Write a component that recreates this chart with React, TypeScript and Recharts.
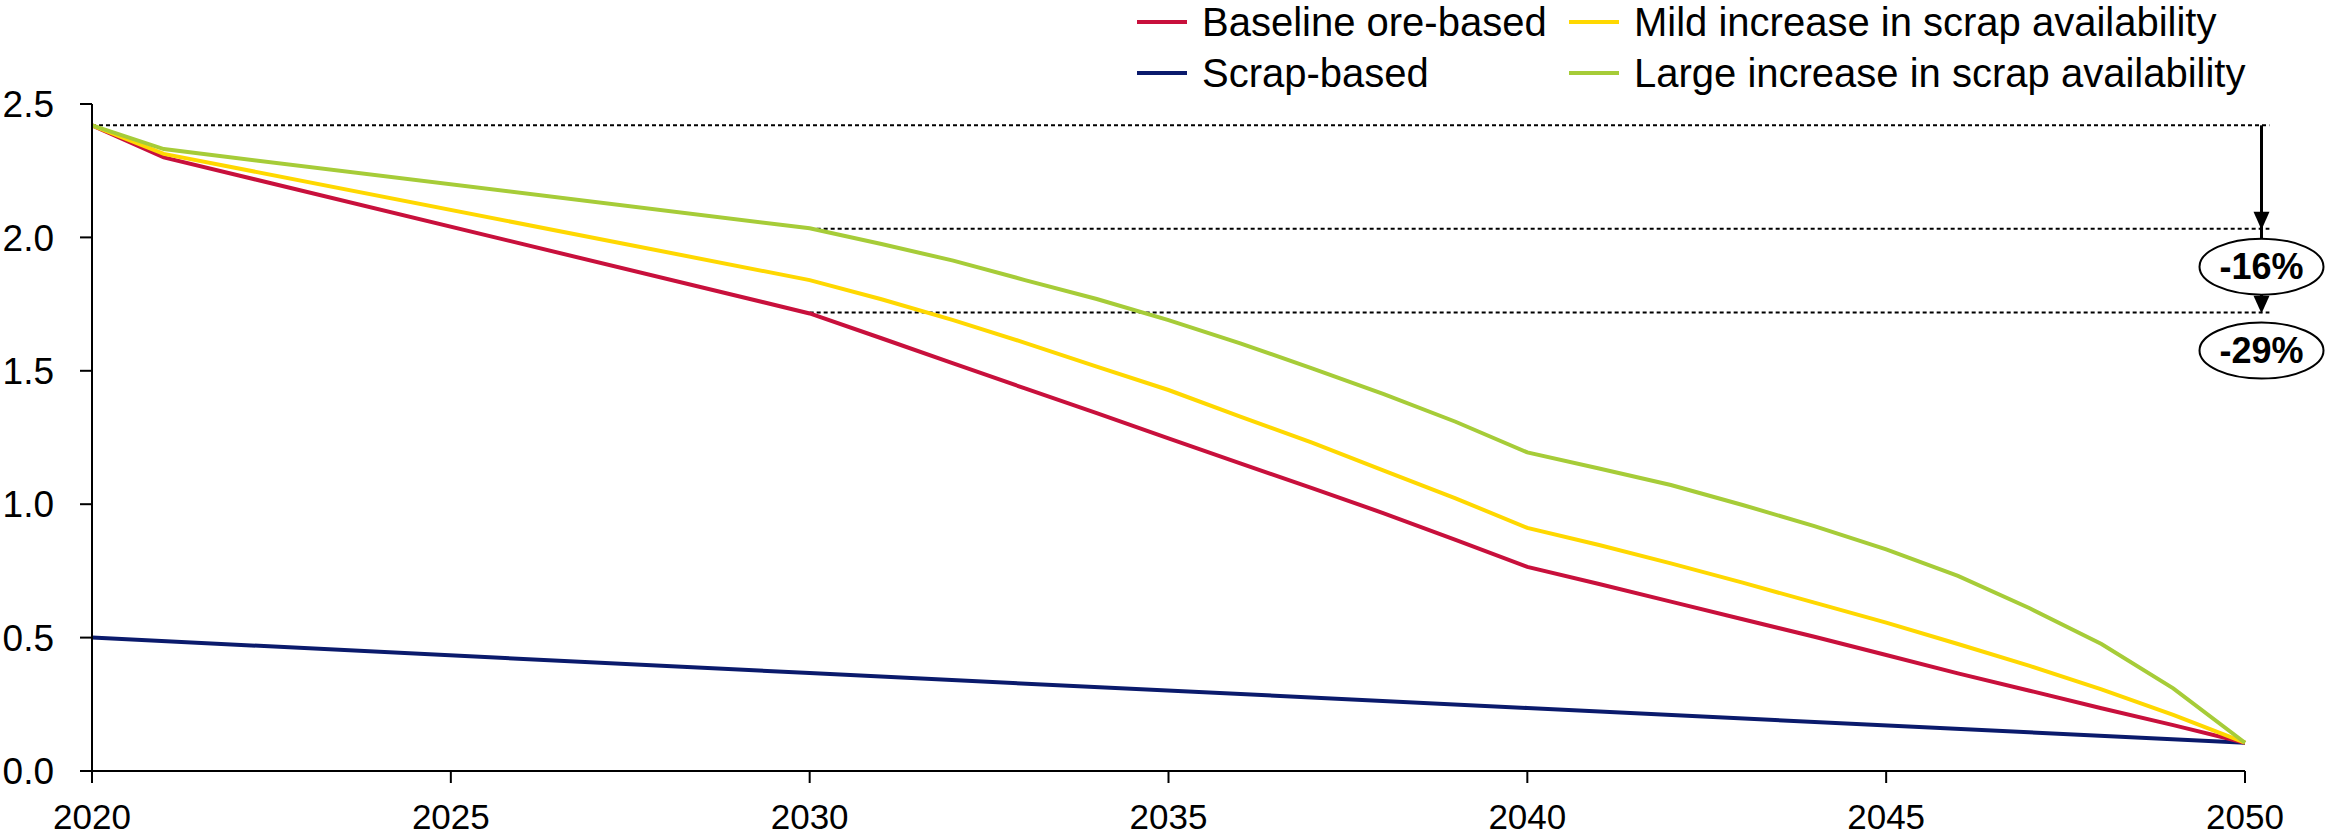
import React from 'react';
import { LineChart, Line, XAxis, YAxis, ReferenceLine, ReferenceDot } from 'recharts';

// Years on the horizontal axis; stretches where a scenario runs straight are left null
const YEARS = [
  2020, 2021, 2022, 2023, 2024, 2025, 2026, 2027, 2028, 2029,
  2030, 2031, 2032, 2033, 2034, 2035, 2036, 2037, 2038, 2039,
  2040, 2041, 2042, 2043, 2044, 2045, 2046, 2047, 2048, 2049, 2050,
];

const BASELINE_ORE = [
  2.42, 2.3, null, null, null, null, null, null, null, null,
  1.715, 1.622, 1.528, 1.434, 1.341, 1.247, 1.153, 1.06, 0.966, 0.866,
  0.765, 0.701, 0.635, 0.569, 0.503, 0.435, 0.366, 0.301, 0.235, 0.172, 0.106,
];

const SCRAP_BASED = [
  0.5, null, null, null, null, null, null, null, null, null,
  0.367, null, null, null, null, null, null, null, null, null,
  0.236, null, null, null, null, null, null, null, null, null, 0.106,
];

const MILD_SCRAP = [
  2.42, 2.313, null, null, null, null, null, null, null, null,
  1.84, 1.768, 1.69, 1.605, 1.516, 1.428, 1.328, 1.231, 1.126, 1.022,
  0.911, 0.847, 0.778, 0.706, 0.631, 0.556, 0.476, 0.394, 0.306, 0.21, 0.106,
];

const LARGE_SCRAP = [
  2.42, 2.331, null, null, null, null, null, null, null, null,
  2.034, 1.975, 1.913, 1.84, 1.769, 1.69, 1.603, 1.509, 1.413, 1.309,
  1.194, 1.134, 1.072, 0.997, 0.918, 0.831, 0.731, 0.61, 0.476, 0.31, 0.106,
];

const X_TICKS = [2020, 2025, 2030, 2035, 2040, 2045, 2050];
const Y_TICKS = [0, 0.5, 1, 1.5, 2, 2.5];

// 2020 starting point and the reductions called out on the right
const START_LEVEL = 2.42;
const REDUCTIONS = [16, 29];

const COLORS = {
  baseline: '#C8103C',
  scrap: '#0A1A6C',
  mild: '#FFD800',
  large: '#A6CC38',
};

const LEGEND = [
  { name: 'Baseline ore-based', color: COLORS.baseline, left: 1137, top: 22 },
  { name: 'Mild increase in scrap availability', color: COLORS.mild, left: 1569, top: 22 },
  { name: 'Scrap-based', color: COLORS.scrap, left: 1137, top: 73 },
  { name: 'Large increase in scrap availability', color: COLORS.large, left: 1569, top: 73 },
];

const rows = YEARS.map((year, i) => ({
  year,
  baseline: BASELINE_ORE[i],
  scrap: SCRAP_BASED[i],
  mild: MILD_SCRAP[i],
  large: LARGE_SCRAP[i],
}));

const levels = REDUCTIONS.map((pct) => START_LEVEL * (1 - pct / 100));

// annotation column sits just right of the 2050 tick
const ARROW_X = 2050.23;
const DASH_END_X = 2050.34;

const BADGE_OFFSET = 38;
const BADGE_RX = 62;
const BADGE_RY = 28;

const arrowHead = (x: number, tipY: number, h = 18, w = 16) => (
  <polygon points={`${x - w / 2},${tipY - h} ${x + w / 2},${tipY - h} ${x},${tipY}`} fill="#000" />
);

// long arrow from the 2020 level down to the first badge
const FirstArrow = (props: any) => {
  const { x1, y1, y2 } = props;
  return (
    <g>
      <line x1={x1} y1={y1} x2={x1} y2={y2 + BADGE_OFFSET - BADGE_RY} stroke="#000" strokeWidth={3} />
      {arrowHead(x1, y2 + 1)}
    </g>
  );
};

// short arrow from the bottom of the first badge to the second level
const SecondArrow = (props: any) => {
  const { x1, y1, y2 } = props;
  const base = y1 + BADGE_OFFSET + BADGE_RY;
  return (
    <g>
      <line x1={x1} y1={base} x2={x1} y2={y2 - 10} stroke="#000" strokeWidth={3} />
      {arrowHead(x1, y2 + 1, Math.max(y2 - base, 8))}
    </g>
  );
};

const makeBadge = (text: string) => (props: any) => {
  const { cx, cy } = props;
  const y = cy + BADGE_OFFSET;
  return (
    <g>
      <ellipse cx={cx} cy={y} rx={BADGE_RX} ry={BADGE_RY} fill="#fff" stroke="#000" strokeWidth={2} />
      <text
        x={cx}
        y={y}
        textAnchor="middle"
        dominantBaseline="central"
        fontSize={36}
        fontWeight="bold"
        fill="#000"
      >
        {text}
      </text>
    </g>
  );
};

const dashed = { stroke: '#000', strokeWidth: 2, strokeDasharray: '4 3' };

export default function App() {
  return (
    <div
      style={{
        position: 'absolute',
        left: 0,
        top: 0,
        width: 2325,
        height: 839,
        background: '#fff',
        fontFamily: '"Liberation Sans", Arial, sans-serif',
      }}
    >
      <LineChart width={2325} height={839} data={rows} margin={{ top: 104, right: 80, bottom: 0, left: 0 }}>
        <XAxis
          dataKey="year"
          type="number"
          domain={[2020, 2050]}
          ticks={X_TICKS}
          height={68}
          tickSize={12}
          tickMargin={21}
          tick={{ fill: '#000', fontSize: 35 }}
          axisLine={{ stroke: '#000', strokeWidth: 2 }}
          tickLine={{ stroke: '#000', strokeWidth: 2 }}
        />
        <YAxis
          type="number"
          domain={[0, 2.5]}
          ticks={Y_TICKS}
          width={92}
          tickSize={12}
          tickMargin={26}
          tickFormatter={(v: number) => v.toFixed(1)}
          tick={{ fill: '#000', fontSize: 37 }}
          axisLine={{ stroke: '#000', strokeWidth: 2 }}
          tickLine={{ stroke: '#000', strokeWidth: 2 }}
        />

        <ReferenceLine
          segment={[{ x: 2020, y: START_LEVEL }, { x: DASH_END_X, y: START_LEVEL }]}
          ifOverflow="visible"
          {...dashed}
        />
        {levels.map((lv) => (
          <ReferenceLine
            key={lv}
            segment={[{ x: 2030, y: lv }, { x: DASH_END_X, y: lv }]}
            ifOverflow="visible"
            {...dashed}
          />
        ))}

        <Line type="linear" dataKey="scrap" name="Scrap-based" stroke={COLORS.scrap} strokeWidth={4} dot={false} connectNulls isAnimationActive={false} />
        <Line type="linear" dataKey="baseline" name="Baseline ore-based" stroke={COLORS.baseline} strokeWidth={4} dot={false} connectNulls isAnimationActive={false} />
        <Line type="linear" dataKey="mild" name="Mild increase in scrap availability" stroke={COLORS.mild} strokeWidth={4} dot={false} connectNulls isAnimationActive={false} />
        <Line type="linear" dataKey="large" name="Large increase in scrap availability" stroke={COLORS.large} strokeWidth={4} dot={false} connectNulls isAnimationActive={false} />

        <ReferenceLine
          segment={[{ x: ARROW_X, y: START_LEVEL }, { x: ARROW_X, y: levels[0] }]}
          ifOverflow="visible"
          shape={FirstArrow}
        />
        <ReferenceLine
          segment={[{ x: ARROW_X, y: levels[0] }, { x: ARROW_X, y: levels[1] }]}
          ifOverflow="visible"
          shape={SecondArrow}
        />
        {levels.map((lv, i) => (
          <ReferenceDot
            key={`badge-${i}`}
            x={ARROW_X}
            y={lv}
            ifOverflow="visible"
            shape={makeBadge(`-${REDUCTIONS[i]}%`)}
          />
        ))}
      </LineChart>

      {LEGEND.map((item) => (
        <div
          key={item.name}
          style={{
            position: 'absolute',
            left: item.left,
            top: item.top - 23,
            height: 46,
            display: 'flex',
            alignItems: 'center',
            whiteSpace: 'nowrap',
            fontSize: 40,
            color: '#000',
          }}
        >
          <span style={{ display: 'inline-block', width: 50, height: 4, background: item.color, marginRight: 15 }} />
          <span>{item.name}</span>
        </div>
      ))}
    </div>
  );
}
